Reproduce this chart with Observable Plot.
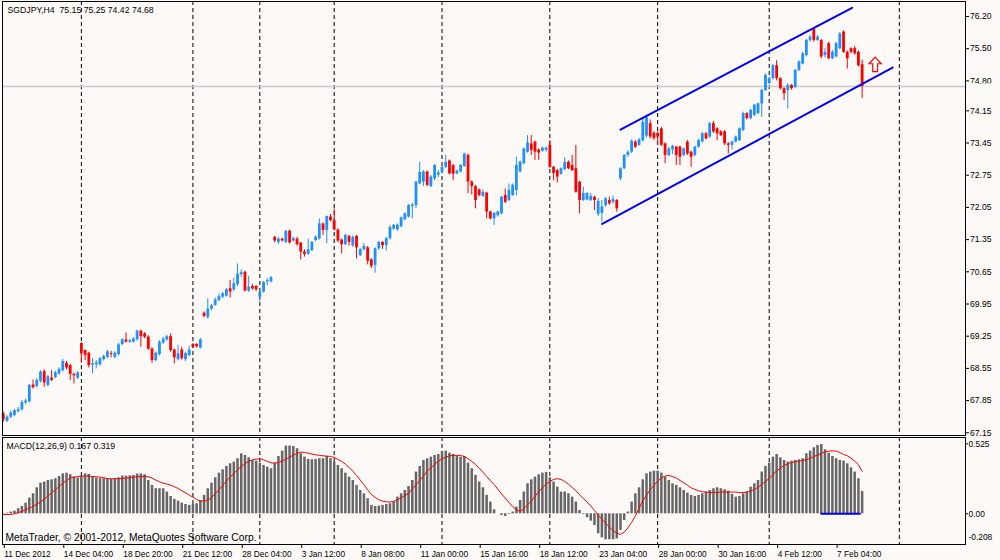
<!DOCTYPE html>
<html><head><meta charset="utf-8">
<script src="https://cdn.jsdelivr.net/npm/d3@7"></script>
<script src="https://cdn.jsdelivr.net/npm/@observablehq/plot@0.6"></script>
<style>
html,body{margin:0;padding:0;background:#fcf9f7;}
#chart{width:1000px;height:560px;position:relative;overflow:hidden;}
#chart svg{display:block;}
</style></head><body><div id="chart"></div>
<script>
// ---- data (bar index = H4 bar, left to right) ----
const opens = [
67.56,67.40,67.49,67.53,67.61,67.65,67.80,67.82,68.19,68.16,
68.27,68.48,68.18,68.34,68.35,68.43,68.50,68.66,68.61,68.42,
68.34,69.09,68.94,68.88,68.62,68.63,68.63,68.74,68.79,68.87,
68.79,68.85,69.07,69.17,69.12,69.12,69.17,69.36,69.30,69.23,
68.97,68.72,68.85,69.10,69.17,69.24,68.95,68.74,68.95,68.74,
68.83,69.07,69.07,68.99,69.75,69.66,69.84,69.92,70.03,70.10,
70.12,70.28,70.26,70.37,70.59,70.64,70.23,70.33,70.33,70.10,
70.21,70.43,70.43,71.40,71.29,71.36,71.29,71.53,71.32,71.36,
71.27,71.08,71.03,71.11,71.33,71.37,71.69,71.55,71.84,71.76,
71.56,71.34,71.24,71.42,71.22,71.42,71.00,71.13,71.17,70.91,
70.79,71.15,71.29,71.22,71.37,71.58,71.56,71.63,71.78,71.84,
72.07,72.09,72.56,72.60,72.82,72.50,72.67,72.75,72.82,72.92,
73.06,72.96,72.78,72.82,72.94,73.18,72.60,72.50,72.43,72.29,
72.36,71.95,71.80,71.87,71.91,72.31,72.20,72.31,72.42,72.82,
73.00,73.25,73.43,73.47,73.30,73.27,73.29,73.40,72.92,72.85,
72.77,72.87,73.03,72.96,72.89,72.60,72.20,72.21,72.20,72.27,
71.90,71.92,72.09,72.20,72.16,72.20,72.67,72.89,73.18,73.25,
73.47,73.40,73.50,73.60,73.87,73.66,73.66,73.76,73.43,73.18,
73.30,73.36,73.36,73.18,73.47,73.25,73.18,73.36,73.47,73.65,
73.58,73.87,73.76,73.69,73.69,73.43,73.40,73.47,73.50,73.72,
74.09,73.98,74.05,74.09,74.30,74.59,74.74,74.85,75.13,74.85,
74.63,74.59,74.70,74.66,75.03,75.17,75.35,75.68,75.93,75.68,
75.68,75.35,75.61,75.28,75.32,75.50,75.86,75.42,75.50,75.50,
75.42,75.15];
const highs = [
67.60,67.52,67.62,67.66,67.70,67.85,67.88,68.20,68.30,68.33,
68.50,68.52,68.40,68.50,68.49,68.56,68.74,68.70,68.64,68.45,
68.48,69.11,68.95,68.90,68.76,68.72,68.79,68.84,68.94,68.92,
68.91,69.09,69.20,69.32,69.18,69.22,69.38,69.38,69.33,69.26,
69.00,68.91,69.15,69.22,69.27,69.30,68.97,69.05,69.01,68.90,
69.03,69.09,69.09,69.20,69.78,70.06,69.94,70.08,70.17,70.20,
70.29,70.46,70.51,70.82,70.69,70.66,70.55,70.38,70.35,70.25,
70.44,70.50,70.55,71.42,71.40,71.38,71.55,71.56,71.40,71.40,
71.29,71.13,71.36,71.31,71.43,71.80,71.71,71.86,71.90,72.02,
71.58,71.36,71.46,71.44,71.43,71.44,71.16,71.26,71.20,70.93,
71.17,71.31,71.30,71.40,71.66,71.68,71.69,71.84,71.93,72.11,
72.14,72.62,73.03,72.85,72.84,72.74,72.98,72.85,72.95,73.18,
73.08,72.98,72.86,72.98,73.23,73.21,72.63,72.53,72.45,72.43,
72.38,71.97,71.94,71.97,72.29,72.45,72.56,72.56,73.14,73.06,
73.34,73.61,73.61,73.49,73.32,73.36,73.36,73.50,72.94,72.87,
72.91,73.13,73.06,73.18,73.40,72.62,72.49,72.37,72.35,72.29,
72.24,72.20,72.26,72.27,72.29,72.22,72.91,73.20,73.28,73.52,
73.50,73.55,74.01,74.04,73.95,73.70,73.69,73.79,73.45,73.35,
73.40,73.38,73.38,73.34,73.50,73.27,73.38,73.53,73.68,73.68,
73.90,73.92,73.78,73.72,73.72,73.46,73.49,73.60,73.78,74.12,
74.11,74.18,74.29,74.32,74.62,74.95,74.88,75.16,75.24,74.87,
74.65,74.74,74.72,75.05,75.24,75.42,75.70,75.79,75.96,75.79,
75.70,75.50,75.64,75.46,75.64,75.85,75.89,75.45,75.52,75.55,
75.45,75.25];
const lows = [
67.38,67.37,67.46,67.50,67.58,67.62,67.76,67.80,68.10,68.12,
68.23,68.14,68.15,68.26,68.32,68.40,68.47,68.52,68.29,68.21,
68.31,68.66,68.72,68.56,68.43,68.54,68.60,68.71,68.76,68.78,
68.76,68.82,69.04,69.10,69.09,69.10,69.14,69.01,69.20,68.94,
68.66,68.69,68.82,69.07,69.14,68.90,68.65,68.71,68.73,68.70,
68.80,68.99,68.99,68.97,69.65,69.62,69.80,69.90,70.00,70.07,
70.10,70.08,70.22,70.33,70.53,70.21,70.20,70.25,70.22,70.00,
70.19,70.35,70.41,71.28,71.24,71.30,71.26,71.25,71.29,71.21,
70.91,70.97,71.01,71.09,71.30,71.34,71.44,71.26,71.74,71.54,
71.28,71.04,71.22,71.21,71.18,70.93,70.98,71.10,70.80,70.72,
70.62,71.12,71.14,71.10,71.34,71.55,71.53,71.61,71.76,71.82,
71.80,72.02,72.55,72.50,72.50,72.48,72.63,72.70,72.80,72.90,
72.76,72.63,72.76,72.80,72.92,72.35,72.32,72.02,72.28,72.27,
71.80,71.78,71.66,71.84,71.89,72.13,72.18,72.29,72.30,72.80,
72.98,73.23,73.18,73.07,73.07,73.25,73.25,72.90,72.63,72.58,
72.75,72.85,72.87,72.83,72.36,71.91,72.18,72.19,72.18,71.98,
71.85,71.73,72.05,72.09,72.12,71.95,72.63,72.87,73.14,73.22,
73.33,73.38,73.47,73.56,73.54,73.50,73.40,73.38,73.00,73.15,
73.20,72.96,72.96,73.15,73.18,72.92,73.15,73.34,73.45,73.52,
73.55,73.66,73.50,73.59,73.40,73.21,73.30,73.45,73.48,73.70,
73.95,73.95,74.02,74.07,74.01,74.57,74.72,74.82,74.80,74.60,
74.37,74.19,74.60,74.63,75.00,75.15,75.32,75.64,75.64,75.66,
75.28,75.30,75.26,75.26,75.30,75.48,75.40,75.06,75.39,75.36,
75.10,74.42];
const closes = [
67.43,67.49,67.58,67.63,67.65,67.81,67.84,68.18,68.13,68.29,
68.47,68.23,68.37,68.29,68.46,68.53,68.70,68.56,68.42,68.39,
68.45,68.87,68.83,68.61,68.65,68.67,68.76,68.81,68.91,68.85,
68.88,69.06,69.17,69.12,69.15,69.19,69.36,69.24,69.23,68.97,
68.72,68.88,69.12,69.19,69.24,68.94,68.78,68.87,68.76,68.87,
68.95,69.01,69.02,69.17,69.68,69.84,69.91,70.04,70.11,70.17,
70.26,70.21,70.39,70.60,70.63,70.23,70.32,70.28,70.26,70.21,
70.42,70.46,70.52,71.32,71.36,71.32,71.53,71.28,71.37,71.24,
71.08,71.03,71.13,71.29,71.40,71.69,71.55,71.85,71.76,71.56,
71.32,71.24,71.44,71.29,71.40,71.17,71.13,71.20,70.88,70.77,
71.15,71.29,71.22,71.37,71.61,71.66,71.66,71.82,71.91,72.09,
72.10,72.60,72.81,72.82,72.53,72.71,72.96,72.80,72.92,73.03,
72.78,72.77,72.84,72.96,73.21,72.60,72.50,72.20,72.31,72.38,
71.95,71.80,71.92,71.95,72.27,72.16,72.42,72.53,72.96,73.03,
73.32,73.45,73.29,73.25,73.23,73.34,73.34,72.92,72.79,72.71,
72.89,73.03,72.89,72.85,72.38,72.20,72.35,72.35,72.29,72.20,
72.18,72.06,72.24,72.13,72.22,72.02,72.89,73.18,73.25,73.49,
73.36,73.52,73.90,74.00,73.58,73.55,73.58,73.40,73.18,73.32,
73.38,73.18,73.14,73.32,73.21,73.14,73.36,73.50,73.65,73.54,
73.87,73.69,73.65,73.61,73.43,73.40,73.47,73.58,73.76,74.09,
73.98,74.16,74.27,74.30,74.59,74.92,74.85,75.13,74.85,74.63,
74.52,74.70,74.63,75.03,75.21,75.39,75.68,75.75,75.68,75.75,
75.32,75.42,75.28,75.42,75.61,75.82,75.42,75.28,75.42,75.39,
75.13,74.68];
const macdMain = [
0.003,0.005,0.013,0.02,0.038,0.055,0.08,0.118,0.15,0.195,
0.23,0.238,0.25,0.255,0.263,0.28,0.3,0.305,0.293,0.275,
0.268,0.28,0.3,0.295,0.28,0.268,0.263,0.263,0.263,0.258,
0.263,0.27,0.283,0.283,0.285,0.288,0.298,0.3,0.293,0.25,
0.213,0.188,0.188,0.188,0.163,0.13,0.108,0.095,0.08,0.07,
0.063,0.07,0.075,0.1,0.138,0.188,0.23,0.27,0.305,0.33,
0.355,0.375,0.388,0.413,0.45,0.438,0.42,0.4,0.395,0.38,
0.363,0.35,0.338,0.38,0.43,0.47,0.508,0.508,0.505,0.488,
0.45,0.425,0.408,0.405,0.408,0.413,0.413,0.43,0.413,0.388,
0.363,0.338,0.305,0.275,0.25,0.213,0.175,0.15,0.113,0.063,
0.055,0.058,0.063,0.07,0.075,0.088,0.125,0.15,0.175,0.205,
0.25,0.313,0.355,0.4,0.413,0.425,0.438,0.445,0.468,0.47,
0.455,0.445,0.43,0.425,0.43,0.38,0.338,0.288,0.238,0.195,
0.138,0.088,0.03,0.0,-0.013,-0.02,-0.005,0.013,0.05,0.1,
0.163,0.225,0.255,0.275,0.293,0.305,0.31,0.27,0.238,0.2,
0.163,0.163,0.15,0.125,0.088,0.025,-0.005,-0.03,-0.055,-0.088,
-0.15,-0.18,-0.195,-0.195,-0.195,-0.188,-0.125,-0.05,0.013,0.088,
0.15,0.195,0.255,0.3,0.313,0.32,0.32,0.305,0.275,0.25,
0.225,0.213,0.195,0.175,0.155,0.138,0.13,0.138,0.15,0.163,
0.175,0.188,0.195,0.188,0.18,0.17,0.145,0.125,0.13,0.15,
0.163,0.2,0.225,0.25,0.313,0.355,0.38,0.425,0.445,0.42,
0.4,0.388,0.395,0.4,0.405,0.413,0.45,0.47,0.495,0.513,
0.52,0.48,0.455,0.43,0.413,0.4,0.395,0.375,0.345,0.313,
0.263,0.167];
const macdSignal = [
-0.005,-0.005,-0.005,0.0,0.008,0.018,0.03,0.043,0.055,0.073,
0.088,0.11,0.133,0.158,0.18,0.205,0.228,0.25,0.268,0.275,
0.28,0.283,0.283,0.283,0.28,0.278,0.275,0.27,0.265,0.263,
0.263,0.263,0.265,0.268,0.27,0.275,0.278,0.28,0.28,0.278,
0.268,0.253,0.24,0.23,0.223,0.215,0.203,0.19,0.173,0.158,
0.14,0.125,0.108,0.095,0.095,0.103,0.12,0.15,0.18,0.213,
0.245,0.275,0.303,0.33,0.355,0.375,0.395,0.405,0.41,0.413,
0.405,0.393,0.383,0.38,0.385,0.395,0.41,0.425,0.44,0.453,
0.463,0.46,0.455,0.448,0.443,0.438,0.435,0.433,0.43,0.423,
0.408,0.393,0.373,0.348,0.32,0.288,0.253,0.218,0.18,0.145,
0.123,0.105,0.095,0.09,0.088,0.093,0.105,0.12,0.138,0.155,
0.185,0.218,0.25,0.283,0.32,0.345,0.37,0.395,0.413,0.425,
0.435,0.438,0.438,0.438,0.43,0.413,0.393,0.37,0.343,0.313,
0.28,0.25,0.22,0.185,0.15,0.118,0.085,0.055,0.03,0.018,
0.038,0.065,0.095,0.13,0.165,0.195,0.223,0.243,0.258,0.263,
0.258,0.243,0.223,0.198,0.173,0.143,0.115,0.088,0.06,0.025,
-0.01,-0.04,-0.07,-0.098,-0.125,-0.145,-0.155,-0.138,-0.105,-0.065,
-0.015,0.04,0.098,0.14,0.18,0.213,0.245,0.268,0.283,0.288,
0.28,0.268,0.25,0.233,0.215,0.195,0.183,0.173,0.165,0.163,
0.16,0.16,0.16,0.163,0.163,0.163,0.163,0.163,0.16,0.16,
0.163,0.17,0.183,0.198,0.22,0.243,0.265,0.293,0.323,0.343,
0.363,0.375,0.385,0.39,0.395,0.4,0.405,0.415,0.43,0.44,
0.453,0.465,0.47,0.473,0.47,0.46,0.445,0.435,0.418,0.395,
0.368,0.319];

const timeLabels = ["11 Dec 2012","14 Dec 04:00","18 Dec 20:00","21 Dec 12:00","28 Dec 04:00","3 Jan 12:00","8 Jan 08:00","11 Jan 00:00","15 Jan 16:00","18 Jan 12:00","23 Jan 04:00","28 Jan 00:00","30 Jan 16:00","4 Feb 12:00","7 Feb 04:00"];
const timeLabelBars = [0,16,32,48,64,80,96,112,128,144,160,176,192,208,224];
const separatorBars = [21,51,69,89,118,147,176,206,241];
const priceTicks = [76.20,75.50,74.80,74.15,73.45,72.75,72.05,71.35,70.65,69.95,69.25,68.55,67.85,67.15];
const macdTicks = [0.525,0.00];
const macdMinLabel = -0.208;
const currentPrice = 74.68;
const titleText = "SGDJPY,H4  75.15 75.25 74.42 74.68";
const macdTitle = "MACD(12,26,9) 0.167 0.319";
const copyright = "MetaTrader, \u00A9 2001-2012, MetaQuotes Software Corp.";
// channel trend lines (bar index, price)
const upperBars = [166.0, 228.3], upperPrices = [73.74, 76.39];
const lowerBars = [161.1, 239.2], lowerPrices = [71.69, 75.09];
// arrow object
const arrowBars = [234.5], arrowPrices = [75.16];
// blue segment on MACD window
const segBars = [220, 230.4], segValues = [0, 0];

const upColor = "#1e90ff", downColor = "#ff0000";
const candles = opens.map((o, i) => ({i, o, h: highs[i], l: lows[i], c: closes[i], col: closes[i] >= o ? upColor : downColor}));
const macdRows = macdMain.map((h, i) => ({i, h, s: macdSignal[i]}));
const upperLine = upperBars.map((b, k) => ({b, p: upperPrices[k]}));
const lowerLine = lowerBars.map((b, k) => ({b, p: lowerPrices[k]}));
const segRows = segBars.map((b, k) => ({b, v: segValues[k]}));
const arrowRows = arrowBars.map((b, k) => ({b, p: arrowPrices[k]}));

// hollow block up-arrow symbol (MT4 "arrow up" object)
const blockArrow = {
  draw(ctx, size) {
    const s = Math.sqrt(size);
    ctx.moveTo(0, -0.6 * s);
    ctx.lineTo(0.5 * s, -0.05 * s);
    ctx.lineTo(0.2 * s, -0.05 * s);
    ctx.lineTo(0.2 * s, 0.6 * s);
    ctx.lineTo(-0.2 * s, 0.6 * s);
    ctx.lineTo(-0.2 * s, -0.05 * s);
    ctx.lineTo(-0.5 * s, -0.05 * s);
    ctx.closePath();
  }
};

const xDomain = [-0.215, 258.8];
const font = "'Liberation Sans', Arial, sans-serif";

const main = Plot.plot({
  width: 1000, height: 436,
  marginLeft: 2, marginRight: 35, marginTop: 1, marginBottom: 1,
  style: {background: "transparent", fontFamily: font, fontSize: "8.6px", color: "#000", overflow: "visible"},
  x: {domain: xDomain, axis: null},
  y: {domain: [67.0913, 76.5261], axis: null},
  marks: [
    Plot.ruleX(separatorBars, {x: d => d, stroke: "#000", strokeDasharray: "4,3", strokeWidth: 1}),
    Plot.ruleY([currentPrice], {y: d => d, stroke: "#c8c8c8", strokeWidth: 1.5}),
    Plot.ruleX(candles, {x: "i", y1: "l", y2: "h", stroke: "col", strokeWidth: 1}),
    Plot.ruleX(candles, {x: "i", y1: "o", y2: "c", stroke: "col", strokeWidth: 2.8}),
    Plot.line(upperLine, {x: "b", y: "p", stroke: "#0000ff", strokeWidth: 2}),
    Plot.line(lowerLine, {x: "b", y: "p", stroke: "#0000ff", strokeWidth: 2}),
    Plot.dot(arrowRows, {x: "b", y: "p", symbol: blockArrow, r: 6.8, fill: "#ffffff", stroke: "#ff0000", strokeWidth: 1.2}),
    Plot.frame({stroke: "#000"}),
    Plot.axisY({anchor: "right", ticks: priceTicks, tickSize: 3, tickPadding: 1.5, tickFormat: d => d.toFixed(2), fontSize: 8.6}),
    Plot.text([titleText], {frameAnchor: "top-left", dx: 5, dy: 9, lineAnchor: "middle", textAnchor: "start", fontSize: 8.7}),
    Plot.text([currentPrice], {y: d => d, frameAnchor: "right", dx: 4, textAnchor: "start", fill: "#fff", fontSize: 8.6, text: d => d.toFixed(2), ariaLabel: "current price"})
  ]
});

const macd = Plot.plot({
  width: 1000, height: 124,
  marginLeft: 2, marginRight: 35, marginTop: 1, marginBottom: 16,
  style: {background: "transparent", fontFamily: font, fontSize: "8.4px", color: "#000", overflow: "visible"},
  x: {domain: xDomain, axis: null},
  y: {domain: [-0.2303, 0.5724], axis: null},
  marks: [
    Plot.ruleX(separatorBars, {x: d => d, stroke: "#000", strokeDasharray: "4,3", strokeWidth: 1}),
    Plot.ruleX(macdRows, {x: "i", y1: 0, y2: "h", stroke: "#666", strokeWidth: 2.5}),
    Plot.line(macdRows, {x: "i", y: "s", stroke: "#ff0000", strokeWidth: 1}),
    Plot.line(segRows, {x: "b", y: "v", stroke: "#0000ff", strokeWidth: 2}),
    Plot.frame({stroke: "#000"}),
    Plot.axisX({anchor: "bottom", ticks: timeLabelBars, tickSize: 4, tickPadding: 2.5, textAnchor: "start", dx: 1, fontSize: 8.3,
      tickFormat: d => timeLabels[timeLabelBars.indexOf(d)]}),
    Plot.axisY({anchor: "right", ticks: macdTicks, tickSize: 2, tickPadding: 1, tickFormat: d => d === 0 ? "0.00" : d.toFixed(3), fontSize: 8.4}),
    Plot.text([macdMinLabel], {y: d => d, frameAnchor: "right", dx: 3, dy: -4, textAnchor: "start", fontSize: 8.4, text: d => d.toFixed(3)}),
    Plot.text([macdTitle], {frameAnchor: "top-left", dx: 4, dy: 9, lineAnchor: "middle", textAnchor: "start", fontSize: 8.7}),
    Plot.text([copyright], {frameAnchor: "bottom-left", dx: 3, dy: -7, lineAnchor: "middle", textAnchor: "start", fontSize: 10.3})
  ]
});

const root = document.getElementById("chart");
root.appendChild(main);
root.appendChild(macd);

// black box behind current price label
const pg = d3.select(main).select('g[aria-label="current price"]');
const tnode = pg.select("text").node();
if (tnode) {
  const bb = tnode.getBBox();
  pg.insert("rect", "text")
    .attr("x", bb.x - 2).attr("y", bb.y - 0.5)
    .attr("width", bb.width + 4).attr("height", bb.height + 1)
    .attr("fill", "#000");
}
</script>
</body></html>
